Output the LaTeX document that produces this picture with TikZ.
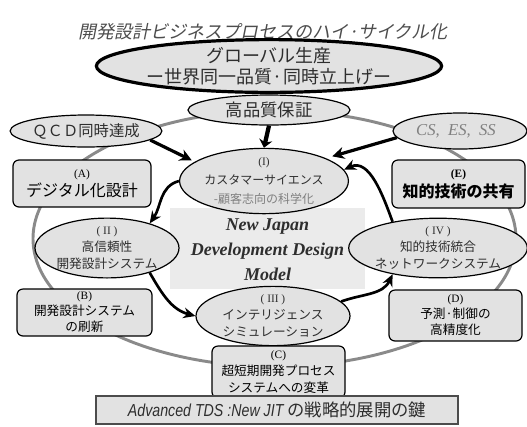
\documentclass[tikz,border=0pt]{standalone}
\usepackage{fontspec}
\setmainfont{Liberation Serif}
\newfontfamily\jp{Noto Sans CJK JP}
\newfontfamily\jpit[FakeSlant=0.2]{Noto Sans CJK JP}
\newfontfamily\latinit[FakeStretch=0.82]{Liberation Sans}
\usetikzlibrary{arrows.meta,shapes.geometric}
\definecolor{fillg}{HTML}{E2E2E2}
\definecolor{ringg}{HTML}{8A8A8A}
\definecolor{txtg}{HTML}{2E2E2E}
\newcommand\mylbl[1]{{\rmfamily\fontsize{8.5}{8.5}\selectfont #1}}
\begin{document}
\begin{tikzpicture}[x=0.75pt,y=-0.75pt,
  ell/.style={ellipse, draw=black, line width=0.9pt, fill=fillg, inner sep=0pt, align=center, text=txtg},
  bx/.style={rectangle, rounded corners=4.5pt, draw=black, line width=0.9pt, fill=fillg, inner sep=0pt, align=center, text=black},
  cyc/.style={line width=2pt, -{Stealth[length=9pt,width=8pt]}},
  feed/.style={line width=2.4pt, -{Stealth[length=9pt,width=9pt]}}
]
\useasboundingbox (0,0) rectangle (527,426);
% outer ring
\draw[ringg, line width=2.2pt] (274.5,238.6) ellipse [x radius=241.5, y radius=128];
% title
\node[font=\jpit\fontsize{13.5}{16}\selectfont, text=txtg!85] (title) at (263,32) {開発設計ビジネスプロセスのハイ·サイクル化};
% global
\node[ell, line width=2.4pt, minimum width=241.5pt, minimum height=36pt, font=\jp\fontsize{13.5}{15.5}\selectfont] (glob) at (269,66) {グローバル生産\\ー世界同一品質·同時立上げー};
% top ellipses
\node[ell, minimum width=121.5pt, minimum height=22.5pt, font=\jp\fontsize{13}{15}\selectfont] (hq) at (269,110) {高品質保証};
\node[ell, minimum width=106.5pt, minimum height=24pt, font=\jp\fontsize{11.5}{13}\selectfont] (qcd) at (86,131) {ＱＣＤ同時達成};
\node[ell, minimum width=100.5pt, minimum height=27pt, font=\rmfamily\itshape\fontsize{12.5}{14}\selectfont, text=gray] (cs) at (460,131) {CS,~ ES,~ SS\hspace{6pt}};
% centre block
\node[fill=fillg!70, minimum width=146.25pt, minimum height=60.75pt, inner sep=0pt] (blk) at (267.5,248.5) {};
\node[font=\rmfamily\bfseries\itshape\fontsize{13.5}{18.75}\selectfont, text=txtg, align=center] (model) at (267.5,250) {New Japan\\Development Design\\Model};
% cycle ellipses
\node[ell, minimum width=108.75pt, minimum height=45.75pt, font=\jp\fontsize{9}{14}\selectfont] (I) at (264,181) {\mylbl{(I)}\\カスタマーサイエンス\\{\color{gray}-顧客志向の科学化}};
\node[ell, minimum width=108pt, minimum height=37.5pt, font=\jp\fontsize{9.5}{12.5}\selectfont] (II) at (107,248) {\mylbl{( II )}\\高信頼性\\開発設計システム};
\node[ell, minimum width=115.5pt, minimum height=33.75pt, font=\jp\fontsize{9.5}{12.5}\selectfont] (III) at (273,316) {\mylbl{( III )}\\インテリジェンス\\シミュレーション};
\node[ell, minimum width=120pt, minimum height=40.5pt, font=\jp\fontsize{9.5}{12.5}\selectfont] (IV) at (438,248) {\mylbl{( IV )}\\知的技術統合\\ネットワークシステム};
% boxes
\node[bx, minimum width=103.5pt, minimum height=35.25pt, font=\jp\fontsize{12}{14}\selectfont] (A) at (82,183.5) {\mylbl{(A)}\\デジタル化設計};
\node[bx, minimum width=99.75pt, minimum height=36pt, font=\jp\bfseries\fontsize{12}{15}\selectfont] (E) at (458.5,184) {\mylbl{\bfseries (E)}\\知的技術の共有};
\node[bx, minimum width=101.25pt, minimum height=35.25pt, font=\jp\fontsize{9.5}{12}\selectfont] (B) at (84.5,312.5) {\mylbl{(B)}\\開発設計システム\\の刷新};
\node[bx, minimum width=99.75pt, minimum height=38.25pt, font=\jp\fontsize{9.5}{12}\selectfont] (D) at (455.5,315.5) {\mylbl{(D)}\\予測·制御の\\高精度化};
\node[bx, minimum width=99.75pt, minimum height=39pt, font=\jp\fontsize{9.5}{12.5}\selectfont] (C) at (278.5,372) {\mylbl{(C)}\\超短期開発プロセス\\システムへの変革};
% bottom key box
\node[rectangle, draw=black!70, line width=2.2pt, fill=fillg, minimum width=271.5pt, minimum height=21pt, inner sep=0pt, text=txtg] (key) at (277,410) {{\latinit\itshape\fontsize{13}{15}\selectfont Advanced TDS :New JIT }{\jp\fontsize{13}{15}\selectfont の戦略的展開の鍵}};
% feeding arrows
\draw[feed] (qcd.-8) -- ([shift={(-10,2)}]I.160);
\draw[feed] (cs.186) -- ([shift={(6,-2)}]I.20);
\draw[line width=3.2pt, -{Stealth[length=6pt,width=10pt]}] (hq.south) -- (I.north);
% cycle arrows
\draw[cyc] (I.west) to[out=195,in=55] (II.30);
\draw[cyc] (II.-30) to[out=-60,in=165] (III.west);
\draw[cyc] (III.12) to[out=20,in=-115] (IV.210);
\draw[cyc] (IV.150) to[out=110,in=25] (I.8);
\end{tikzpicture}
\end{document}
